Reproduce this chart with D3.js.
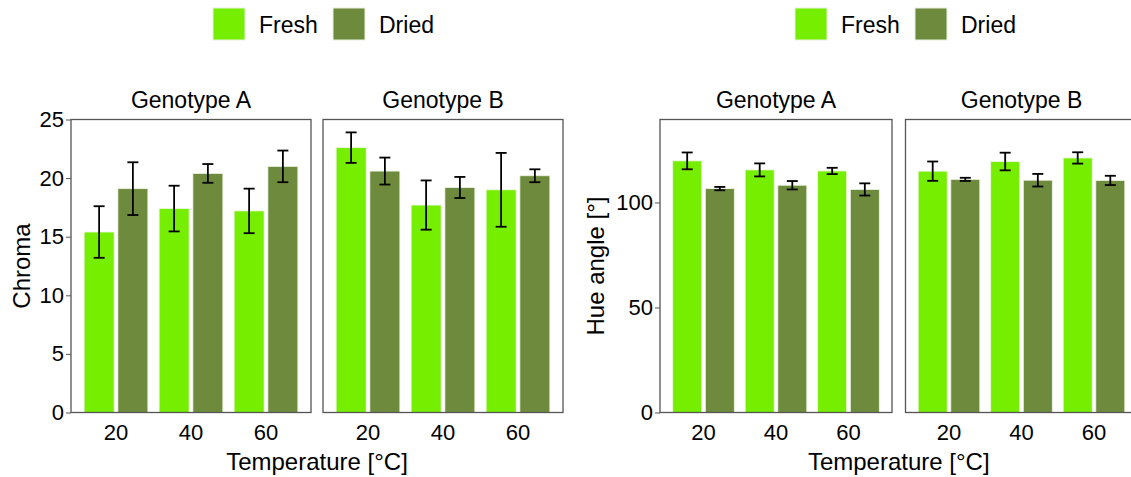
<!DOCTYPE html>
<html>
<head>
<meta charset="utf-8">
<script src="https://cdn.jsdelivr.net/npm/d3@7"></script>
<style>
  body { margin: 0; background: #fff; }
  text { font-family: "Liberation Sans", Arial, sans-serif; fill: #000; }
</style>
</head>
<body>
<svg id="chart" width="1131" height="477"></svg>
<script>
const temps = ['20', '40', '60']
const genotypes = ['Genotype A', 'Genotype B']
const treatments = ['Fresh', 'Dried']
const colors = ['#76ee00', '#6e8b3d']

// chroma: mean and half error bar, by genotype / treatment / temperature
const chromaFreshA = [15.4, 17.4, 17.2]
const chromaFreshAErr = [2.2, 1.95, 1.9]
const chromaDriedA = [19.1, 20.4, 21.0]
const chromaDriedAErr = [2.25, 0.8, 1.35]
const chromaFreshB = [22.6, 17.7, 19.0]
const chromaFreshBErr = [1.3, 2.1, 3.15]
const chromaDriedB = [20.6, 19.2, 20.2]
const chromaDriedBErr = [1.15, 0.9, 0.55]

// hue angle
const hueFreshA = [119.8, 115.5, 115.0]
const hueFreshAErr = [4.0, 3.1, 1.5]
const hueDriedA = [106.6, 108.2, 106.2]
const hueDriedAErr = [0.8, 2.0, 2.9]
const hueFreshB = [114.9, 119.5, 121.2]
const hueFreshBErr = [4.6, 4.2, 2.7]
const hueDriedB = [111.0, 110.6, 110.5]
const hueDriedBErr = [0.75, 3.0, 2.2]

const chromaTicks = [0, 5, 10, 15, 20, 25]
const hueTicks = [0, 50, 100]

function rows(mean, err, geno, treat) {
  return temps.map((t, i) => ({ temp: t, geno: geno, treat: treat, mean: mean[i], err: err[i] }))
}

const chromaData = [].concat(
  rows(chromaFreshA, chromaFreshAErr, 'Genotype A', 'Fresh'),
  rows(chromaDriedA, chromaDriedAErr, 'Genotype A', 'Dried'),
  rows(chromaFreshB, chromaFreshBErr, 'Genotype B', 'Fresh'),
  rows(chromaDriedB, chromaDriedBErr, 'Genotype B', 'Dried')
)
const hueData = [].concat(
  rows(hueFreshA, hueFreshAErr, 'Genotype A', 'Fresh'),
  rows(hueDriedA, hueDriedAErr, 'Genotype A', 'Dried'),
  rows(hueFreshB, hueFreshBErr, 'Genotype B', 'Fresh'),
  rows(hueDriedB, hueDriedBErr, 'Genotype B', 'Dried')
)

const svg = d3.select('#chart')
const plotTop = 119.5, plotBottom = 412.5

function drawChart(opt) {
  const g = svg.append('g')
  const color = d3.scaleOrdinal().domain(treatments).range(colors)
  const y = d3.scaleLinear().domain(opt.yDomain).range([plotBottom, plotTop])

  // legend
  const leg = g.append('g').attr('transform', 'translate(' + opt.legendX + ',0)')
  treatments.forEach((t, i) => {
    leg.append('rect')
      .attr('x', i * 120).attr('y', 8).attr('width', 32).attr('height', 32)
      .attr('fill', color(t)).attr('stroke', '#e8f0e0').attr('stroke-width', 1)
    leg.append('text')
      .attr('x', i * 120 + 46).attr('y', 33)
      .style('font-size', '23px').text(t)
  })

  genotypes.forEach((geno, gi) => {
    const x0 = opt.x0 + gi * (opt.panelW + opt.gap)
    const x = d3.scaleBand().domain(temps).range([x0, x0 + opt.panelW]).paddingInner(0).paddingOuter(0.1)
    const step = x.step()
    const xSub = d3.scaleBand().domain(treatments).range([0.05 * step, 0.95 * step])
    const barW = 0.4 * step
    const data = opt.data.filter(d => d.geno === geno)

    const p = g.append('g')

    // bars
    p.selectAll('rect.bar')
      .data(data)
      .enter().append('rect')
      .attr('class', 'bar')
      .attr('x', d => x(d.temp) + xSub(d.treat) + (xSub.bandwidth() - barW) / 2)
      .attr('width', barW)
      .attr('y', d => y(d.mean))
      .attr('height', d => y(0) - y(d.mean))
      .attr('fill', d => color(d.treat))
      .attr('stroke', '#eef5e6')
      .attr('stroke-width', 0.8)

    // error bars
    const eb = p.selectAll('g.err')
      .data(data)
      .enter().append('g')
      .attr('class', 'err')
      .attr('stroke', '#000')
      .attr('stroke-width', 1.8)
    const cx = d => x(d.temp) + xSub(d.treat) + xSub.bandwidth() / 2
    eb.append('line')
      .attr('x1', cx).attr('x2', cx)
      .attr('y1', d => y(d.mean + d.err)).attr('y2', d => y(d.mean - d.err))
    eb.append('line')
      .attr('x1', d => cx(d) - 5.5).attr('x2', d => cx(d) + 5.5)
      .attr('y1', d => y(d.mean + d.err)).attr('y2', d => y(d.mean + d.err))
    eb.append('line')
      .attr('x1', d => cx(d) - 5.5).attr('x2', d => cx(d) + 5.5)
      .attr('y1', d => y(d.mean - d.err)).attr('y2', d => y(d.mean - d.err))

    // panel border
    p.append('rect')
      .attr('x', x0).attr('y', plotTop)
      .attr('width', opt.panelW).attr('height', plotBottom - plotTop)
      .attr('fill', 'none').attr('stroke', '#555').attr('stroke-width', 1.3)

    // strip title
    p.append('text')
      .attr('x', x0 + opt.panelW / 2).attr('y', 108)
      .attr('text-anchor', 'middle')
      .style('font-size', '23px')
      .text(geno)

    // x axis
    const xa = p.append('g')
      .attr('transform', 'translate(0,' + plotBottom + ')')
      .call(d3.axisBottom(x).tickSize(0).tickPadding(12))
    xa.select('.domain').remove()
    xa.selectAll('text').style('font-size', '22px').attr('fill', '#000')

    // y axis only on first panel
    if (gi === 0) {
      const ya = p.append('g')
        .attr('transform', 'translate(' + x0 + ',0)')
        .call(d3.axisLeft(y).tickValues(opt.yTicks).tickSize(5).tickPadding(2))
      ya.select('.domain').remove()
      ya.selectAll('line').attr('stroke', '#555')
      ya.selectAll('text').style('font-size', '22px').attr('fill', '#000')
    }
  })

  // axis titles
  const fullW = 2 * opt.panelW + opt.gap
  g.append('text')
    .attr('x', opt.x0 + fullW / 2).attr('y', 470)
    .attr('text-anchor', 'middle')
    .style('font-size', '24px')
    .text('Temperature [°C]')
  g.append('text')
    .attr('transform', 'translate(' + opt.yTitleX + ',' + (plotTop + plotBottom) / 2 + ') rotate(-90)')
    .attr('text-anchor', 'middle')
    .style('font-size', '24px')
    .text(opt.yTitle)
}

drawChart({ data: chromaData, x0: 71, panelW: 240, gap: 12, yDomain: [0, 25], yTicks: chromaTicks,
  yTitle: 'Chroma', yTitleX: 30, legendX: 213 })
drawChart({ data: hueData, x0: 660, panelW: 232, gap: 13.5, yDomain: [0, 139.5], yTicks: hueTicks,
  yTitle: 'Hue angle [°]', yTitleX: 604, legendX: 795 })
</script>
</body>
</html>
